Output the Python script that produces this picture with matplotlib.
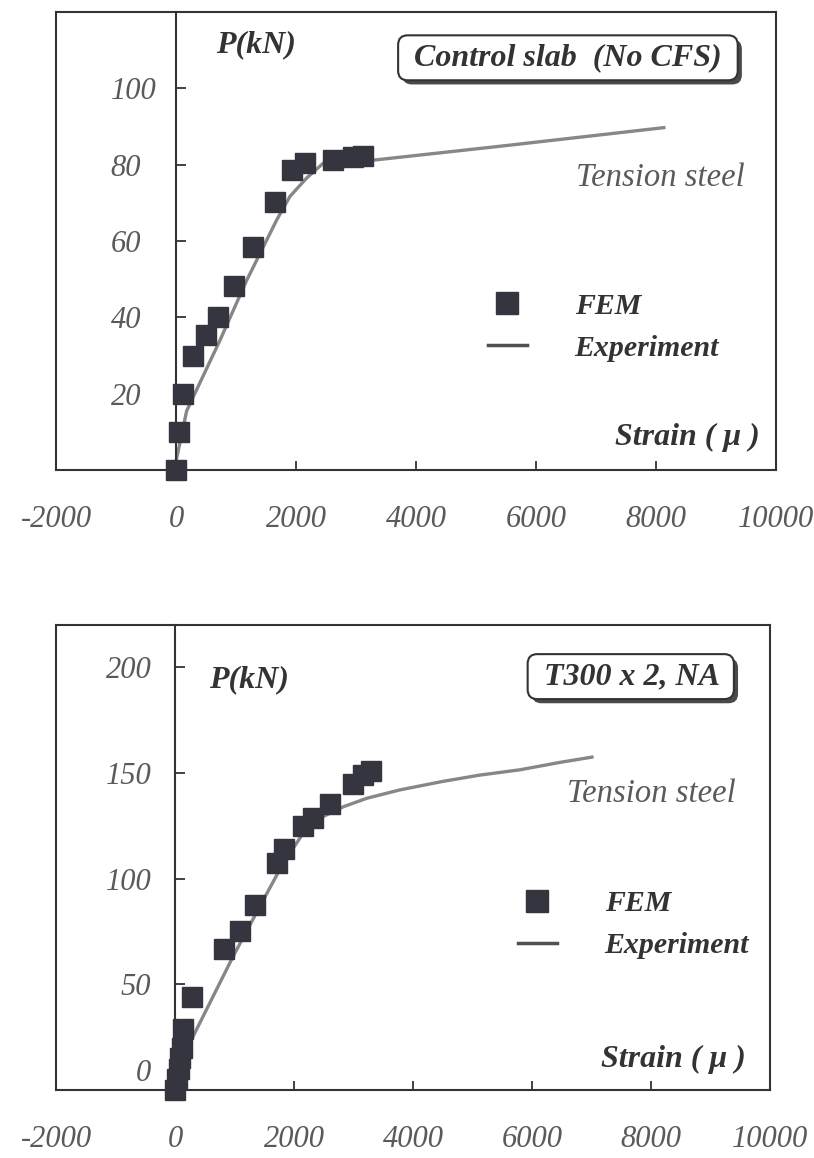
import matplotlib
matplotlib.use("Agg")
import matplotlib.pyplot as plt
import matplotlib.patheffects as pe
from matplotlib.lines import Line2D
from matplotlib.transforms import ScaledTranslation

# ---- Control slab (no CFS) ----
ctrl_fem_strain = [0, 55, 122, 278, 500, 695, 967, 1278, 1645, 1928, 2155, 2611, 2950, 3117]
ctrl_fem_load = [0, 10, 20, 30, 35.5, 40, 48.3, 58.3, 70.3, 78.5, 80.4, 81.2, 82.0, 82.3]
ctrl_exp_strain = [10, 178, 733, 1178, 1678, 1900, 2178, 2455, 3300, 5500, 8130]
ctrl_exp_load = [3, 15.5, 34, 49.7, 65.5, 71.7, 76.5, 80.4, 81.2, 85.0, 89.7]

# ---- T300 x 2, NA ----
t300_fem_strain = [0, 30, 60, 90, 120, 130, 280, 823, 1092, 1350, 1709, 1832, 2157, 2325,
                   2605, 2997, 3165, 3289]
t300_fem_load = [0, 5, 10, 15, 20, 28.8, 44.2, 66.5, 75.2, 87.7, 107.4, 114, 125, 128.6,
                 135.2, 145, 149, 151.1]
t300_exp_strain = [150, 308, 980, 1429, 1820, 2157, 2492, 2829, 3221, 3782, 4500, 5126,
                   5798, 6470, 7008]
t300_exp_load = [18, 25.6, 63.4, 87, 107.4, 121.6, 129.4, 134, 138, 142, 146, 149,
                 151.5, 155, 157.5]

x_ticks = [-2000, 0, 2000, 4000, 6000, 8000, 10000]
x_tick_labels = ["-2000", "0", "2000", "4000", "6000", "8000", "10000"]
ctrl_y_ticks = [20, 40, 60, 80, 100]
ctrl_y_labels = ["20", "40", "60", "80", "100"]
t300_y_ticks = [0, 50, 100, 150, 200]
t300_y_labels = ["0", "50", "100", "150", "200"]

SERIF = "Liberation Serif"
INK = "#333333"
GREY_TXT = "#5a5a5a"
CURVE = "#878787"
SQUARE = "#35353f"

fig = plt.figure(figsize=(8.14, 11.58), dpi=100)
ax1 = fig.add_axes([56 / 814, 1 - 470 / 1158, 720 / 814, 458 / 1158])
ax2 = fig.add_axes([56 / 814, 1 - 1090 / 1158, 714 / 814, 465 / 1158])


def style_panel(ax, ylim, yticks, ylabels, label_ha, label_pad):
    ax.set_xlim(-2000, 10000)
    ax.set_ylim(*ylim)
    for side in ("top", "right", "bottom", "left"):
        ax.spines[side].set_color(INK)
        ax.spines[side].set_linewidth(1.5)
    # load axis sits on zero strain; the outer frame is closed separately
    ax.spines["left"].set_position(("data", 0))
    ax.add_line(Line2D([0, 0], [0, 1], transform=ax.transAxes, color=INK,
                       lw=1.5, clip_on=False))
    ax.set_xticks(x_ticks, labels=x_tick_labels, fontsize=22, family=SERIF,
                  fontstyle="italic", color=GREY_TXT)
    ax.set_yticks(yticks, labels=ylabels, fontsize=22, family=SERIF,
                  fontstyle="italic", color=GREY_TXT)
    ax.tick_params(axis="x", direction="in", length=6.5, width=1.3, color=INK, pad=25)
    ax.tick_params(axis="y", direction="in", length=7, width=1.3, color=INK,
                   pad=label_pad)
    for lbl in ax.get_yticklabels():
        lbl.set_horizontalalignment(label_ha)


def add_texts(ax, plab, box_text, box_xy, steel_xy, strain_xy, legend_anchor):
    ax.text(*plab, "P(kN)", transform=ax.transAxes, ha="center", va="center",
            fontsize=23, family=SERIF, fontstyle="italic", fontweight="bold", color=INK)
    title = ax.text(*box_xy, box_text, transform=ax.transAxes, ha="center",
                    va="center", fontsize=23, family=SERIF, fontstyle="italic",
                    fontweight="bold", color=INK, zorder=6,
                    bbox=dict(boxstyle="round,pad=0.25,rounding_size=0.3",
                              fc="white", ec=INK, lw=1.5))
    title.get_bbox_patch().set_path_effects([
        pe.SimplePatchShadow(offset=(3, -3), shadow_rgbFace="#4a4a4a", alpha=1.0),
        pe.Normal()])
    ax.text(*steel_xy, "Tension steel", transform=ax.transAxes, ha="right",
            va="center", fontsize=23.5, family=SERIF, fontstyle="italic", color=GREY_TXT)
    ax.text(*strain_xy, "Strain ( μ )", transform=ax.transAxes, ha="right",
            va="center", fontsize=23, family=SERIF, fontstyle="italic",
            fontweight="bold", color=INK)
    handles = [Line2D([], [], marker="s", ls="none", ms=16.5, color=SQUARE),
               Line2D([], [], color="#505050", lw=2.5)]
    ax.legend(handles, ["FEM", "Experiment"], loc="upper left",
              bbox_to_anchor=legend_anchor, frameon=False, borderpad=0,
              borderaxespad=0, handlelength=1.3, handletextpad=1.6,
              labelspacing=0.5,
              prop=dict(family=SERIF, style="italic", weight="bold", size=21.5),
              labelcolor=INK)


# Control slab panel
style_panel(ax1, (0, 120), ctrl_y_ticks, ctrl_y_labels, "left", 47)
ax1.plot(ctrl_exp_strain, ctrl_exp_load, color=CURVE, lw=2.4, zorder=2)
ax1.plot(ctrl_fem_strain, ctrl_fem_load, "s", ms=14.5, color=SQUARE, zorder=3,
         clip_on=False)
add_texts(ax1, (0.278, 0.928), " Control slab  (No CFS) ", (0.711, 0.900),
          (0.957, 0.638), (0.978, 0.072), (0.60, 0.387))

# T300 x 2 panel
style_panel(ax2, (0, 220), t300_y_ticks, t300_y_labels, "right", 17)
ax2.plot(t300_exp_strain, t300_exp_load, color=CURVE, lw=2.4, zorder=2)
ax2.plot(t300_fem_strain, t300_fem_load, "s", ms=14.5, color=SQUARE, zorder=3,
         clip_on=False)
add_texts(ax2, (0.270, 0.882), " T300 x 2, NA ", (0.805, 0.889),
          (0.952, 0.637), (0.966, 0.065), (0.647, 0.43))

# the zero label is lifted clear of the frame corner
zero_lbl = ax2.yaxis.get_major_ticks()[0].label1
zero_lbl.set_transform(zero_lbl.get_transform() +
                       ScaledTranslation(0, 0.2, fig.dpi_scale_trans))

fig.savefig("out.png", dpi=100, facecolor="white")
